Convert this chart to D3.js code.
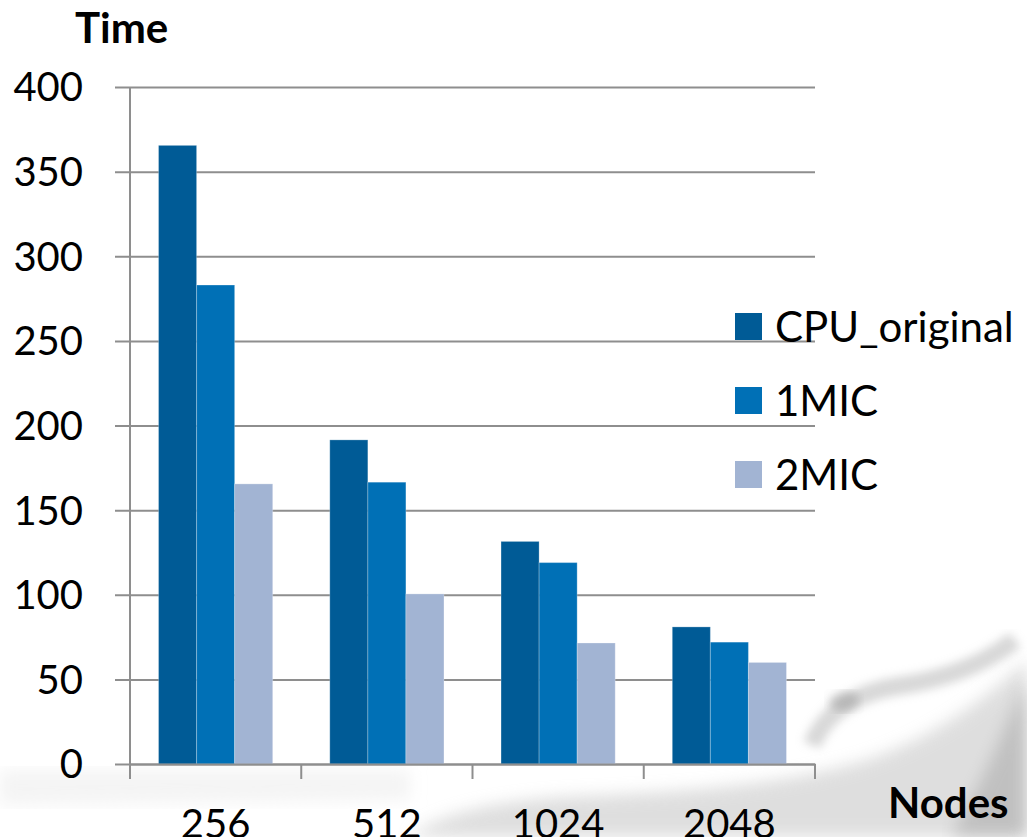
<!DOCTYPE html>
<html>
<head>
<meta charset="utf-8">
<script src="https://cdn.jsdelivr.net/npm/d3@7"></script>
<style>
  html, body { margin: 0; padding: 0; background: #fff; overflow: hidden; }
  svg { display: block; }
  text { font-family: Lato, "Open Sans", sans-serif; fill: #000; }
</style>
</head>
<body>
<svg id="chart" width="1027" height="837"></svg>
<script>
// Run time per node count for each configuration
const categories = ["256", "512", "1024", "2048"];
const seriesNames = ["CPU_original", "1MIC", "2MIC"];
const cpuOriginal = [365.5, 191.5, 131.5, 81];
const oneMIC = [283, 166.5, 119, 72];
const twoMIC = [165.5, 100.5, 71.5, 60];
const yTicks = [0, 50, 100, 150, 200, 250, 300, 350, 400];
const colors = ["#005b96", "#0070b6", "#a2b4d3"];

const seriesValues = [cpuOriginal, oneMIC, twoMIC];
const svg = d3.select("#chart");

// Faint grey brush-stroke backdrop along the lower right
const defs = svg.append("defs");
defs.append("filter").attr("id", "soft")
  .append("feGaussianBlur").attr("stdDeviation", 8);
defs.append("filter").attr("id", "softer")
  .append("feGaussianBlur").attr("stdDeviation", 5);
const deco = svg.append("g");
deco.append("path")
  .attr("d", "M0,770 L410,770 L410,800 L0,805 Z")
  .attr("fill", "#f4f4f4").attr("filter", "url(#soft)");
deco.append("path")
  .attr("d", "M410,837 C440,812 500,800 580,796 C680,792 780,785 860,762 C930,740 985,700 1027,660 L1027,837 Z")
  .attr("fill", "#c4c4c4").attr("opacity", 0.55).attr("filter", "url(#soft)");
deco.append("path")
  .attr("d", "M812,745 C825,712 858,692 898,686 C940,680 982,666 1015,640")
  .attr("fill", "none").attr("stroke", "#b0b0b0").attr("stroke-width", 18)
  .attr("opacity", 0.5).attr("filter", "url(#softer)");
deco.append("path")
  .attr("d", "M1027,680 C1005,725 985,780 950,837 L1027,837 Z")
  .attr("fill", "#9d9d9d").attr("opacity", 0.45).attr("filter", "url(#soft)");
deco.append("path")
  .attr("d", "M828,702 C838,688 856,688 860,700 C852,714 836,716 828,702 Z")
  .attr("fill", "#8f8f8f").attr("opacity", 0.45).attr("filter", "url(#softer)");

const plotLeft = 130, plotRight = 815, plotTop = 87, plotBottom = 764;

const x0 = d3.scaleBand().domain(categories).range([plotLeft, plotRight]).paddingInner(0).paddingOuter(0);
const x1 = d3.scaleBand().domain(seriesNames).range([0, x0.bandwidth()]).paddingOuter(0.75).paddingInner(0);
const y = d3.scaleLinear().domain([0, 400]).range([plotBottom, plotTop]);

// Horizontal gridlines with left tick marks
const yAxis = d3.axisLeft(y).tickValues(yTicks).tickSize(-(plotRight - plotLeft)).tickSizeOuter(0).tickFormat("");
const gy = svg.append("g").attr("transform", `translate(${plotLeft},0)`).call(yAxis);
gy.select(".domain").remove();
gy.selectAll(".tick line").attr("x1", -15).attr("stroke", "#8e8e8e").attr("stroke-width", 2);

// Y tick labels
svg.append("g").selectAll("text").data(yTicks).join("text")
  .attr("x", 83).attr("y", d => y(d)).attr("dy", "0.36em")
  .attr("text-anchor", "end").attr("font-size", 40).text(d => d);

// Bars
const groups = svg.append("g").selectAll("g").data(categories).join("g")
  .attr("transform", d => `translate(${x0(d)},0)`);
groups.selectAll("rect").data((c, i) => seriesNames.map((s, j) => ({ s, j, v: seriesValues[j][i] })))
  .join("rect")
  .attr("x", d => x1(d.s))
  .attr("y", d => y(d.v))
  .attr("width", x1.bandwidth())
  .attr("height", d => y(0) - y(d.v))
  .attr("fill", d => colors[d.j])
  .attr("stroke", "#ffffff").attr("stroke-opacity", 0.25).attr("stroke-width", 1);

// Vertical axis line
svg.append("line").attr("x1", plotLeft).attr("x2", plotLeft).attr("y1", plotTop).attr("y2", plotBottom + 15)
  .attr("stroke", "#8e8e8e").attr("stroke-width", 2);

// X axis with category separators
const xAxis = d3.axisBottom(x0).tickSize(0).tickFormat("");
const gx = svg.append("g").attr("transform", `translate(0,${plotBottom})`).call(xAxis);
gx.select(".domain").attr("stroke", "#8e8e8e").attr("stroke-width", 2);
const bounds = categories.map(c => x0(c)).concat([plotRight]);
svg.append("g").selectAll("line").data(bounds).join("line")
  .attr("x1", d => d).attr("x2", d => d).attr("y1", plotBottom).attr("y2", plotBottom + 15)
  .attr("stroke", "#8e8e8e").attr("stroke-width", 2);

// Category labels
svg.append("g").selectAll("text").data(categories).join("text")
  .attr("x", d => x0(d) + x0.bandwidth() / 2).attr("y", 838)
  .attr("text-anchor", "middle").attr("font-size", 40).text(d => d);

// Axis titles
svg.append("text").attr("x", 75).attr("y", 43).attr("font-size", 42).attr("font-weight", "bold").text("Time");
svg.append("text").attr("x", 888).attr("y", 818).attr("font-size", 42).attr("font-weight", "bold").text("Nodes");

// Legend
const legend = svg.append("g").attr("transform", "translate(735,313)");
const items = legend.selectAll("g").data(seriesNames).join("g")
  .attr("transform", (d, i) => `translate(0,${i * 74})`);
items.append("rect").attr("width", 27).attr("height", 27).attr("fill", (d, i) => colors[i]);
items.append("text").attr("x", 40).attr("y", 14).attr("dy", "0.36em").attr("font-size", 42).text(d => d);
</script>
</body>
</html>
